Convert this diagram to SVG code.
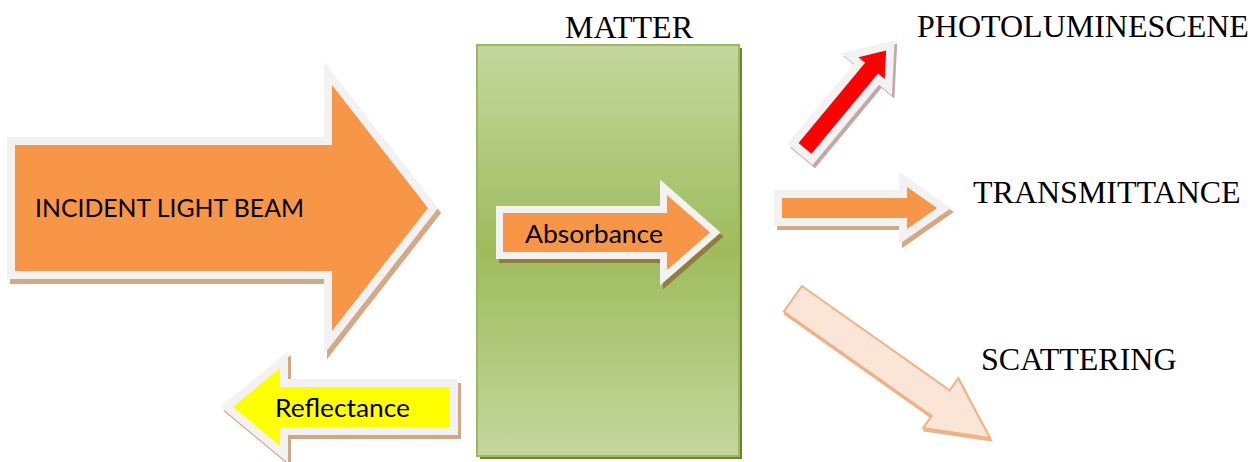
<svg xmlns="http://www.w3.org/2000/svg" width="1255" height="462" viewBox="0 0 1255 462">
  <style>
    .serif { font-family: "Liberation Serif", "Times New Roman", serif; font-size: 32px; fill: #000; }
    .sans { font-family: Lato, "Open Sans", "Liberation Sans", sans-serif; font-size: 25px; fill: #000; }
    .halo { stroke: #F2F2F2; stroke-width: 16; stroke-linejoin: miter; paint-order: stroke; }
    .halo14 { stroke: #F2F2F2; stroke-width: 14; stroke-linejoin: miter; paint-order: stroke; }
    .shadow { stroke-width: 16; stroke-linejoin: miter; }
    .orange { fill: #F79646; }
  </style>
  <defs>
    <linearGradient id="matterFill" x1="0" y1="0" x2="0" y2="1">
      <stop offset="0" stop-color="#C4D79E"/>
      <stop offset="0.5" stop-color="#9EBC5C"/>
      <stop offset="1" stop-color="#C4D79E"/>
    </linearGradient>
    <path id="bigArrow" d="M15,145 H332 V85 L428,208 L332,331 V271 H15 Z"/>
    <path id="absArrow" d="M503,213 H667 V195 L710,232.5 L667,270 V252 H503 Z"/>
    <path id="refArrow" d="M450,387 H280 V368 L233,407 L280,446 V427 H450 Z"/>
    <path id="transArrow" d="M782,198 H907 V187 L937,208 L907,229 V218 H782 Z"/>
    <path id="redArrow" d="M0,-8.4 H104.2 V-17.1 L127,0 L104.2,17.1 V8.4 H0 Z"/>
    <path id="scatArrow" d="M0,-15.6 H181 V-30.5 L241.4,0 L181,30.5 V15.6 H0 Z"/>
  </defs>

  <!-- sample block -->
  <g id="matter">
    <rect x="480" y="48" width="262" height="411" fill="#6A8536"/>
    <rect x="477" y="45" width="262" height="411" fill="url(#matterFill)" stroke="#9BBB59" stroke-width="2"/>
    <text class="serif" x="565" y="38">MATTER</text>
  </g>

  <g id="connectors">
    <!-- incoming beam -->
    <g id="incident">
      <use href="#bigArrow" transform="translate(3,5)" class="shadow" fill="#D3A986" stroke="#D3A986"/>
      <use href="#bigArrow" class="orange halo"/>
      <text class="sans" x="35" y="217" textLength="269" lengthAdjust="spacingAndGlyphs">INCIDENT LIGHT BEAM</text>
    </g>

    <!-- absorbed part inside the sample -->
    <g id="absorbance">
      <use href="#absArrow" transform="translate(3,4)" fill="#8F7E3E" stroke="#8F7E3E" stroke-width="14" stroke-linejoin="miter"/>
      <use href="#absArrow" class="orange halo14"/>
      <text class="sans" x="525" y="243" textLength="138" lengthAdjust="spacingAndGlyphs">Absorbance</text>
    </g>

    <!-- reflected part -->
    <g id="reflectance">
      <use href="#refArrow" transform="translate(3,4)" class="shadow" fill="#D2A784" stroke="#D2A784"/>
      <use href="#refArrow" class="halo" fill="#FFFF00"/>
      <text class="sans" x="275" y="417" textLength="135" lengthAdjust="spacingAndGlyphs">Reflectance</text>
    </g>

    <!-- emitted light -->
    <g id="photoluminescence-arrow">
      <use href="#redArrow" transform="translate(807.5,151.5) rotate(-50.3)" class="shadow" fill="#C4A8A8" stroke="#C4A8A8"/>
      <use href="#redArrow" transform="translate(805,148.3) rotate(-50.3)" class="halo" fill="#FF0000"/>
    </g>

    <!-- transmitted light -->
    <g id="transmittance-arrow">
      <use href="#transArrow" transform="translate(3,4)" class="shadow" fill="#D5A880" stroke="#D5A880"/>
      <use href="#transArrow" class="orange halo"/>
    </g>

    <!-- scattered light -->
    <g id="scattering-arrow">
      <use href="#scatArrow" transform="translate(793.8,301.3) rotate(35.2)" fill="#E8B48C" stroke="#E8B48C" stroke-width="2"/>
      <use href="#scatArrow" transform="translate(792.8,298.8) rotate(35.2)" fill="#FBE5D6" stroke="#F4B183" stroke-width="2"/>
    </g>
  </g>

  <g id="photoluminescence">
    <text class="serif" x="917" y="37">PHOTOLUMINESCENE</text>
  </g>
  <g id="transmittance">
    <text class="serif" x="973" y="203">TRANSMITTANCE</text>
  </g>
  <g id="scattering">
    <text class="serif" x="981" y="370">SCATTERING</text>
  </g>
</svg>
